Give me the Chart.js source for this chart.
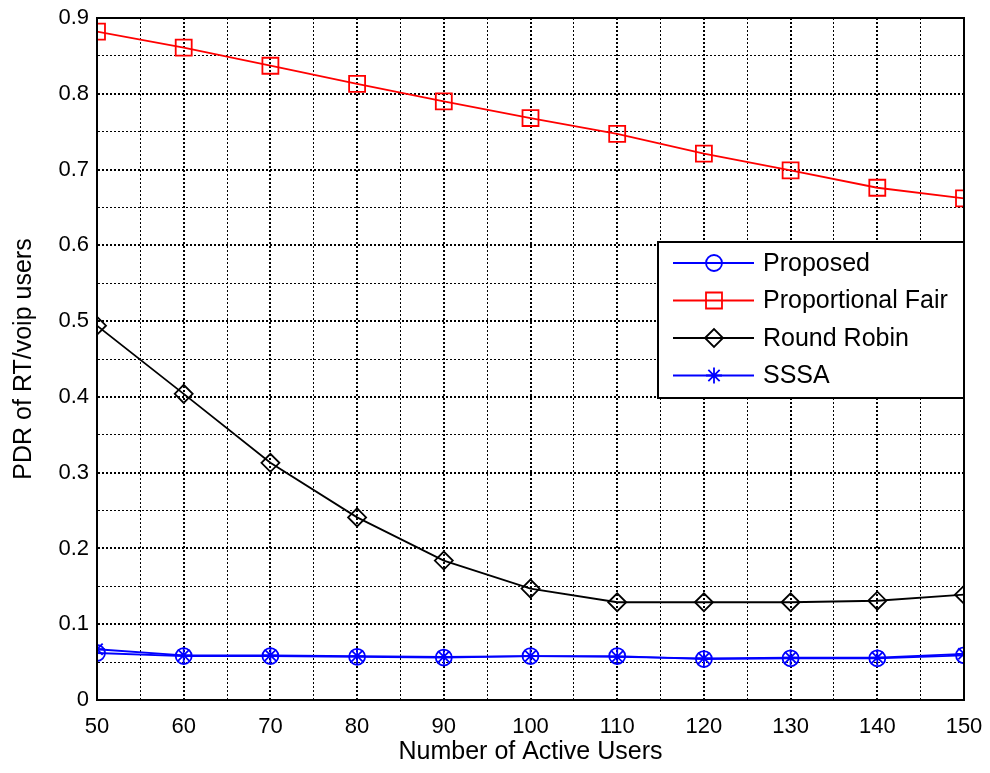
<!DOCTYPE html>
<html>
<head>
<meta charset="utf-8">
<script src="https://cdn.jsdelivr.net/npm/chart.js@4/dist/chart.umd.min.js"></script>
<style>
  html, body { margin: 0; padding: 0; background: #fff; }
  #wrap { width: 990px; height: 773px; position: relative; }
</style>
</head>
<body>
<div id="wrap"><canvas id="pdrChart" width="990" height="773"></canvas></div>
<script>
'use strict';

// ====== DATA ======
const activeUsers = [50, 60, 70, 80, 90, 100, 110, 120, 130, 140, 150];
const proposed = [0.062, 0.058, 0.058, 0.057, 0.056, 0.058, 0.058, 0.054, 0.055, 0.055, 0.059];
const propFair = [0.882, 0.861, 0.837, 0.813, 0.790, 0.768, 0.747, 0.721, 0.699, 0.676, 0.662];
const roundRobin = [0.494, 0.404, 0.313, 0.241, 0.184, 0.147, 0.129, 0.129, 0.129, 0.131, 0.139];
const sssa = [0.067, 0.059, 0.059, 0.058, 0.057, 0.058, 0.057, 0.055, 0.056, 0.056, 0.061];
const seriesNames = ['Proposed', 'Proportional Fair', 'Round Robin', 'SSSA'];

const FONT = 'Liberation Sans, Arial, sans-serif';

function toPoints(values) {
    return activeUsers.map((x, i) => ({ x, y: values[i] }));
}

function isMajor(v, step) {
    const r = v / step;
    return Math.abs(r - Math.round(r)) < 1e-6;
}

// ====== PLUGINS ======
// axes box (top + right edges, MATLAB style)
const boxPlugin = {
    id: 'axesBox',
    afterDatasetsDraw(chart) {
        const { ctx, chartArea: a } = chart;
        ctx.save();
        ctx.strokeStyle = '#000';
        ctx.lineWidth = 2;
        ctx.strokeRect(a.left, a.top, a.right - a.left, a.bottom - a.top);
        ctx.restore();
    }
};

// legend box inside the plot, top-right area
const legendBoxPlugin = {
    id: 'legendBox',
    afterDraw(chart) {
        const { ctx, chartArea: a } = chart;
        const boxW = 306, boxH = 156;
        const x0 = a.right - boxW, y0 = 242;
        ctx.save();
        ctx.fillStyle = '#fff';
        ctx.fillRect(x0, y0, boxW, boxH);
        ctx.strokeStyle = '#000';
        ctx.lineWidth = 2;
        ctx.strokeRect(x0, y0, boxW, boxH);

        ctx.font = '25px ' + FONT;
        ctx.textBaseline = 'middle';
        chart.data.datasets.forEach((ds, i) => {
            const y = y0 + 21 + i * 37.5;
            ctx.strokeStyle = ds.borderColor;
            ctx.lineWidth = ds.borderWidth;
            ctx.beginPath();
            ctx.moveTo(x0 + 15, y);
            ctx.lineTo(x0 + 96, y);
            ctx.stroke();
            ctx.fillStyle = 'rgba(0,0,0,0)';
            if (Chart.helpers && Chart.helpers.drawPoint) {
                Chart.helpers.drawPoint(ctx, {
                    pointStyle: ds.pointStyle,
                    radius: ds.pointRadius,
                    borderWidth: ds.pointBorderWidth,
                    rotation: 0
                }, x0 + 56, y);
            }
            ctx.fillStyle = '#000';
            ctx.fillText(ds.label, x0 + 105, y + 1);
        });
        ctx.restore();
    }
};

// ====== DATASETS ======
function makeSet(label, values, color, style, radius) {
    return {
        label,
        data: toPoints(values),
        borderColor: color,
        backgroundColor: color,
        borderWidth: 1.8,
        pointStyle: style,
        pointRadius: radius,
        pointHoverRadius: radius,
        pointBorderColor: color,
        pointBackgroundColor: 'rgba(0,0,0,0)',
        pointBorderWidth: 1.8,
        tension: 0,
        fill: false
    };
}

const datasets = [
    makeSet(seriesNames[0], proposed, '#0000ff', 'circle', 8),
    makeSet(seriesNames[1], propFair, '#ff0000', 'rect', 11.3),
    makeSet(seriesNames[2], roundRobin, '#000000', 'rectRot', 9),
    makeSet(seriesNames[3], sssa, '#0000ff', 'star', 8)
];

// ====== CHART ======
const ctx = document.getElementById('pdrChart').getContext('2d');
new Chart(ctx, {
    type: 'line',
    data: { datasets },
    options: {
        responsive: false,
        animation: false,
        events: [],
        layout: { padding: { left: 0, right: 26, top: 18, bottom: 0 } },
        plugins: {
            legend: { display: false },
            tooltip: { enabled: false }
        },
        scales: {
            x: {
                type: 'linear',
                min: 50,
                max: 150,
                afterFit(scale) {
                    scale.height = 73;
                    scale.paddingLeft = 0;
                    scale.paddingRight = 0;
                },
                ticks: {
                    stepSize: 5,
                    autoSkip: false,
                    maxRotation: 0,
                    padding: 14,
                    color: '#000',
                    font: { family: FONT, size: 22 },
                    callback: v => (isMajor(v, 10) ? String(v) : '')
                },
                grid: {
                    color: '#000',
                    drawTicks: false,
                    lineWidth: c => (isMajor(c.tick.value, 10) ? 2 : 1)
                },
                border: { display: true, color: '#000', width: 2, dash: [2, 2] },
                title: {
                    display: true,
                    text: 'Number of Active Users',
                    color: '#000',
                    font: { family: FONT, size: 25 },
                    padding: { top: 0, bottom: 6 }
                }
            },
            y: {
                type: 'linear',
                min: 0,
                max: 0.9,
                afterFit(scale) {
                    scale.width = 97;
                    scale.paddingTop = 0;
                    scale.paddingBottom = 0;
                },
                ticks: {
                    stepSize: 0.05,
                    autoSkip: false,
                    padding: 8,
                    color: '#000',
                    font: { family: FONT, size: 22 },
                    callback: v => (isMajor(v, 0.1) ? String(Math.round(v * 10) / 10) : '')
                },
                grid: {
                    color: '#000',
                    drawTicks: false,
                    lineWidth: c => (isMajor(c.tick.value, 0.1) ? 2 : 1)
                },
                border: { display: true, color: '#000', width: 2, dash: [2, 2] },
                title: {
                    display: true,
                    text: 'PDR of RT/voip users',
                    color: '#000',
                    font: { family: FONT, size: 25 },
                    padding: { top: 9, bottom: 0 }
                }
            }
        }
    },
    plugins: [boxPlugin, legendBoxPlugin]
});
</script>
</body>
</html>
